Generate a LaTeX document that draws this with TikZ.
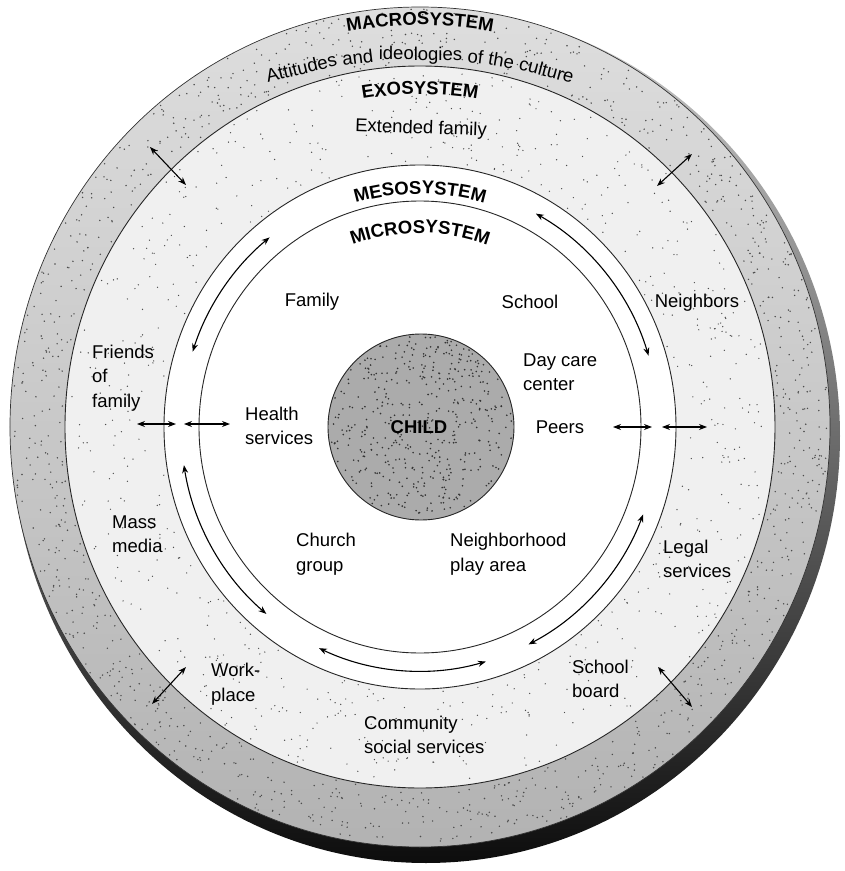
\documentclass[tikz,border=0pt]{standalone}
\usepackage{fontspec}
\setmainfont{Liberation Sans}
\usetikzlibrary{arrows.meta,decorations.text}
\begin{document}
\begin{tikzpicture}[x=1pt,y=1pt,
  lbl/.style={font=\fontsize{18.5}{24.5}\selectfont, align=left, inner sep=0pt},
  arcword/.style={font=\fontsize{18.5}{20}\selectfont, inner sep=0pt, anchor=base},
  ringline/.style={line width=0.9pt, draw=black!85},
  dbl/.style={line width=1.1pt, {Stealth[length=8pt,width=6pt]}-{Stealth[length=8pt,width=6pt]}},
  speck/.style={fill=black!70},
  arched/.style={decorate, decoration={text along path, text align=center, text={#1}}},
]
\useasboundingbox (-420,-444) rectangle (425,427);
% ---- fills ----
\shade[shading angle=-45, top color=black!20, bottom color=black!95] (6,-9) ellipse [x radius=414pt, y radius=427pt];
\shade[top color=black!13, bottom color=black!30] (0,0) ellipse [x radius=410pt, y radius=420pt];
\fill[black!6] (0,0) ellipse [x radius=355pt, y radius=361pt];
\fill[white] (0,0) ellipse [x radius=256pt, y radius=262pt];
% ---- specks ----
\pgfmathsetseed{42}
\foreach \i in {1,...,1100}{
  \pgfmathsetmacro\ang{rnd*360}
  \pgfmathsetmacro\t{rnd}
  \pgfmathsetmacro\rx{358+\t*50}
  \pgfmathsetmacro\ry{363+\t*55}
  \fill[speck] (\ang:\rx pt and \ry pt) circle (0.8pt);
}
\foreach \i in {1,...,700}{
  \pgfmathsetmacro\ang{rnd*360}
  \pgfmathsetmacro\t{rnd}
  \pgfmathsetmacro\rx{259+\t*93}
  \pgfmathsetmacro\ry{265+\t*93}
  \fill[speck] (\ang:\rx pt and \ry pt) circle (0.7pt);
}
\fill[black!33] (1,0) circle [radius=93pt];
\foreach \i in {1,...,450}{
  \pgfmathsetmacro\ang{rnd*360}
  \pgfmathsetmacro\rr{91*sqrt(rnd)}
  \fill[black!80] ([shift={(1,0)}]\ang:\rr pt) circle (0.9pt);
}
% ---- ring lines ----
\draw[line width=0.7pt, black!80] (0,0) ellipse [x radius=410pt, y radius=420pt];
\draw[ringline] (0,0) ellipse [x radius=355pt, y radius=361pt];
\draw[ringline] (0,0) ellipse [x radius=256pt, y radius=262pt];
\draw[ringline] (0,0) ellipse [x radius=221pt, y radius=226pt];
\draw[ringline] (1,0) circle [radius=93pt];
% ---- arched headings ----
\path[arched={|\fontsize{18.5}{20}\selectfont\bfseries|MACROSYSTEM}] (125:402pt) arc[start angle=125, end angle=55, radius=402pt];
\path[arched={|\fontsize{18.5}{20}\selectfont\bfseries|EXOSYSTEM}] (125:333pt) arc[start angle=125, end angle=55, radius=333pt];
\path[arched={|\fontsize{18.5}{20}\selectfont\bfseries|MESOSYSTEM}] (130:233pt) arc[start angle=130, end angle=50, radius=233pt];
\path[arched={|\fontsize{18.5}{20}\selectfont\bfseries|MICROSYSTEM}] (135:194pt) arc[start angle=135, end angle=45, radius=194pt];
% ---- Attitudes line, word by word on an arc ----
\begin{scope}[shift={(0,-120)}]
\node[arcword, rotate=13.91] (w1) at (103.91:487pt) {Attitudes};
\node[arcword, rotate=7.26]  (w2) at (97.26:487pt) {and};
\node[arcword, rotate=-0.06] (w3) at (89.94:487pt) {ideologies};
\node[arcword, rotate=-6.47] (w4) at (83.53:487pt) {of};
\node[arcword, rotate=-9.49] (w5) at (80.51:487pt) {the};
\node[arcword, rotate=-14.87] (w6) at (75.13:487pt) {culture};
\end{scope}
% ---- labels ----
\node[lbl, rotate=-2] (extfam) at (1,298) {Extended family};
\node[lbl] (family) at (-108,125) {Family};
\node[lbl] (school) at (110,125) {School};
\node[lbl] (neigh) at (277,124) {Neighbors};
\node[lbl, anchor=west] (friends) at (-328,49) {Friends\\of\\family};
\node[lbl, anchor=west] (daycare) at (103,55) {Day care\\center};
\node[lbl, anchor=west] (health) at (-175,1) {Health\\services};
\node[lbl, font=\fontsize{18.5}{20}\selectfont\bfseries] (child) at (-1,0) {CHILD};
\node[lbl] (peers) at (140,0) {Peers};
\node[lbl, anchor=west] (mass) at (-308,-107) {Mass\\media};
\node[lbl, anchor=west] (church) at (-124,-127) {Church\\group};
\node[lbl, anchor=west] (nbhd) at (30,-127) {Neighborhood\\play area};
\node[lbl, anchor=west] (legal) at (243,-132) {Legal\\services};
\node[lbl, anchor=west] (work) at (-209,-257) {Work-\\place};
\node[lbl, anchor=west] (board) at (152,-252) {School\\board};
\node[lbl, anchor=west] (comm) at (-56,-308) {Community\\social services};
% ---- straight double arrows ----
\coordinate (lh1) at (-283,3); \coordinate (lh2) at (-244,3);
\coordinate (lh3) at (-236,3); \coordinate (lh4) at (-190,3);
\coordinate (rh1) at (193,0);  \coordinate (rh2) at (232,0);
\coordinate (rh3) at (242,0);  \coordinate (rh4) at (287,0);
\draw[dbl] (lh1) -- (lh2); \draw[dbl] (lh3) -- (lh4);
\draw[dbl] (rh1) -- (rh2); \draw[dbl] (rh3) -- (rh4);
\coordinate (tl1) at (-270,280); \coordinate (tl2) at (-234,242);
\coordinate (tr1) at (237,241);  \coordinate (tr2) at (272,273);
\coordinate (bl1) at (-268,-277); \coordinate (bl2) at (-234,-240);
\coordinate (br1) at (238,-240); \coordinate (br2) at (272,-280);
\draw[dbl] (tl1) -- (tl2); \draw[dbl] (tr1) -- (tr2);
\draw[dbl] (bl1) -- (bl2); \draw[dbl] (br1) -- (br2);
% ---- curved double arrows between micro and meso ----
\coordinate (cul) at (129:239pt and 244pt);
\coordinate (cur) at (61:239pt and 244pt);
\coordinate (cll) at (189:239pt and 244pt);
\coordinate (cbt) at (245:239pt and 244pt);
\coordinate (clr) at (339:239pt and 244pt);
\draw[dbl] (cul) arc[start angle=129, end angle=162, x radius=239pt, y radius=244pt];
\draw[dbl] (cur) arc[start angle=61, end angle=17, x radius=239pt, y radius=244pt];
\draw[dbl] (cll) arc[start angle=189, end angle=230, x radius=239pt, y radius=244pt];
\draw[dbl] (cbt) arc[start angle=245, end angle=286, x radius=239pt, y radius=244pt];
\draw[dbl] (clr) arc[start angle=339, end angle=297, x radius=239pt, y radius=244pt];
\end{tikzpicture}
\end{document}
